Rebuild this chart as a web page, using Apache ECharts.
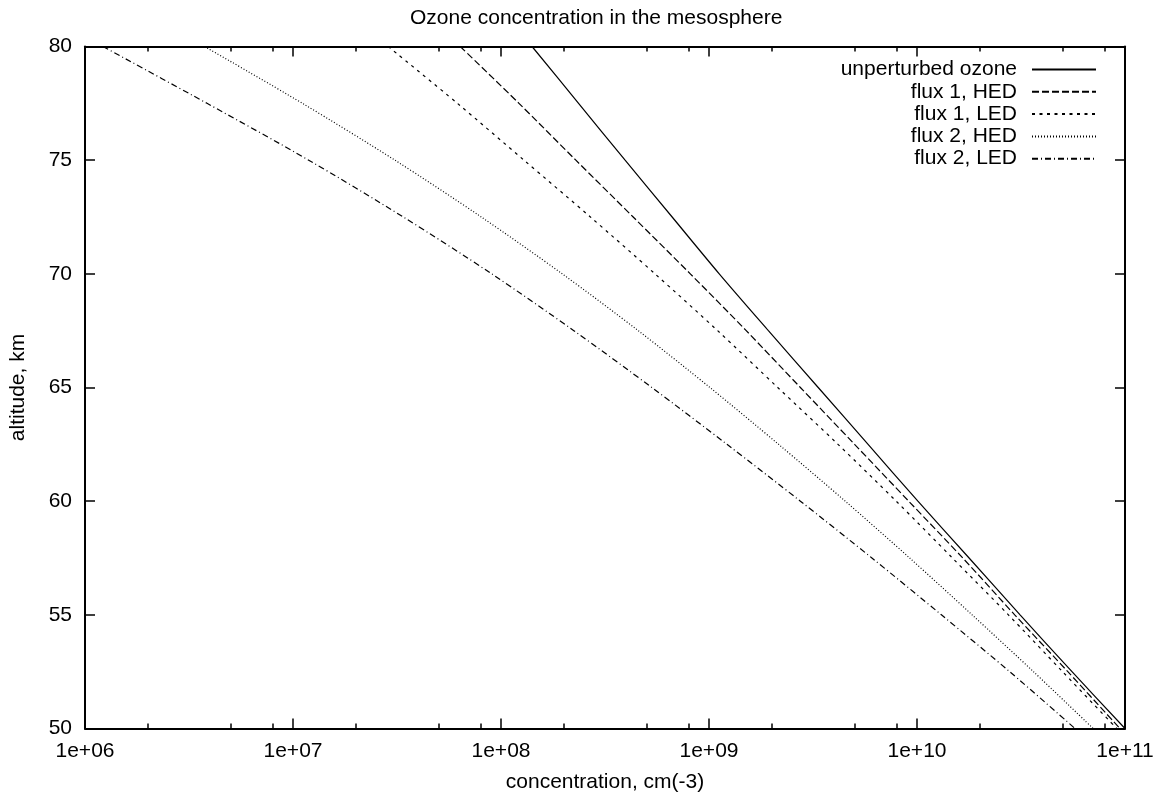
<!DOCTYPE html>
<html>
<head>
<meta charset="utf-8">
<title>Ozone concentration in the mesosphere</title>
<script src="https://cdn.jsdelivr.net/npm/echarts@6/dist/echarts.min.js"></script>
<style>
html, body { margin: 0; padding: 0; background: #fff; }
#main { width: 1160px; height: 802px; }
</style>
</head>
<body>
<div id="main"></div>
<script>
// altitude, km (y values shared by all curves)
var altitude = [80, 77.5, 75, 72.5, 70, 67.5, 65, 62.5, 60, 57.5, 55, 52.5, 50];

// concentration, cm(-3)
var unperturbed = [1.41e8, 2.36e8, 3.95e8, 6.65e8, 1.12e9, 1.93e9, 3.35e9, 5.82e9, 1.01e10, 1.78e10, 3.13e10, 5.56e10, 1.0e11];
var flux1HED = [6.37e7, 1.22e8, 2.29e8, 4.32e8, 8.13e8, 1.51e9, 2.75e9, 5.01e9, 9.12e9, 1.66e10, 2.95e10, 5.31e10, 9.46e10];
var flux1LED = [2.87e7, 6.17e7, 1.29e8, 2.69e8, 5.50e8, 1.10e9, 2.14e9, 4.17e9, 7.94e9, 1.48e10, 2.75e10, 5.01e10, 9.12e10];
var flux2HED = [3.76e6, 1.11e7, 3.09e7, 8.04e7, 1.97e8, 4.57e8, 1.01e9, 2.16e9, 4.52e9, 9.22e9, 1.84e10, 3.63e10, 7.03e10];
var flux2LED = [1.22e6, 3.86e6, 1.19e7, 3.39e7, 9.02e7, 2.24e8, 5.31e8, 1.22e9, 2.75e9, 6.07e9, 1.31e10, 2.79e10, 5.75e10];

// tick values
var xMajorTicks = [1e6, 1e7, 1e8, 1e9, 1e10, 1e11];
var xMinorTicks = [];
for (var e = 6; e < 11; e++) {
    xMinorTicks.push(2 * Math.pow(10, e), 5 * Math.pow(10, e), 8 * Math.pow(10, e));
}

var font = "'Liberation Sans', Arial, Helvetica, sans-serif";

function pairs(xs) {
    var out = [];
    for (var i = 0; i < xs.length; i++) out.push([xs[i], altitude[i]]);
    return out;
}

function expLabel(v) {
    var p = Math.round(Math.log10(v));
    return '1e+' + (p < 10 ? '0' + p : p);
}

// one x axis: major ticks or minor ticks, bottom or top
function xAxisDef(pos, minor, labels) {
    return {
        type: 'log',
        logBase: 10,
        position: pos,
        min: 1e6,
        max: 1e11,
        name: labels ? 'concentration, cm(-3)' : '',
        nameLocation: 'middle',
        nameGap: 43,
        nameTextStyle: { fontFamily: font, fontSize: 21, color: '#000' },
        axisLine: { show: !minor, onZero: false, lineStyle: { color: '#000', width: 2 } },
        axisTick: {
            show: true,
            inside: true,
            length: minor ? 5 : 10,
            customValues: minor ? xMinorTicks : xMajorTicks,
            lineStyle: { color: '#000', width: 1.5 }
        },
        axisLabel: {
            show: labels,
            customValues: xMajorTicks,
            margin: 12,
            fontFamily: font,
            fontSize: 21,
            color: '#000',
            formatter: expLabel
        },
        splitLine: { show: false }
    };
}

function yAxisDef(pos, labels) {
    return {
        type: 'value',
        position: pos,
        min: 50,
        max: 80,
        interval: 5,
        name: labels ? 'altitude, km' : '',
        nameLocation: 'middle',
        nameRotate: 90,
        nameGap: 56,
        nameTextStyle: { fontFamily: font, fontSize: 21, color: '#000' },
        axisLine: { show: true, onZero: false, lineStyle: { color: '#000', width: 2 } },
        axisTick: { show: true, inside: true, length: 10, lineStyle: { color: '#000', width: 1.5 } },
        axisLabel: { show: labels, margin: 13, fontFamily: font, fontSize: 21, color: '#000' },
        splitLine: { show: false }
    };
}

function line(name, xs, dash) {
    return {
        name: name,
        type: 'line',
        xAxisIndex: 0,
        yAxisIndex: 0,
        data: pairs(xs),
        smooth: 0.3,
        symbol: 'none',
        silent: true,
        animation: false,
        itemStyle: { color: '#000' },
        lineStyle: { color: '#000', width: 1.2, type: dash }
    };
}

var myChart = echarts.init(document.getElementById('main'), null, { renderer: 'canvas' });

var option = {
    backgroundColor: '#fff',
    animation: false,
    title: {
        text: 'Ozone concentration in the mesosphere',
        left: 405,
        top: 3,
        textStyle: { fontFamily: font, fontSize: 21, fontWeight: 'normal', color: '#000' }
    },
    legend: {
        orient: 'vertical',
        right: 63,
        top: 59,
        padding: 0,
        align: 'right',
        itemWidth: 64,
        itemHeight: 12,
        itemGap: 1.3,
        selectedMode: false,
        itemStyle: { opacity: 0, borderWidth: 0 },
        textStyle: { fontFamily: font, fontSize: 21, color: '#000', padding: [0, 10, 0, 0] },
        data: ['unperturbed ozone', 'flux 1, HED', 'flux 1, LED', 'flux 2, HED', 'flux 2, LED']
    },
    grid: { left: 83.5, right: 35, top: 46.5, bottom: 73.5, containLabel: false },
    xAxis: [
        xAxisDef('bottom', false, true),
        xAxisDef('bottom', true, false),
        xAxisDef('top', false, false),
        xAxisDef('top', true, false)
    ],
    yAxis: [
        yAxisDef('left', true),
        yAxisDef('right', false)
    ],
    series: [
        line('unperturbed ozone', unperturbed, 'solid'),
        line('flux 1, HED', flux1HED, [7, 3]),
        line('flux 1, LED', flux1LED, [3, 4.5]),
        line('flux 2, HED', flux2HED, [1, 2]),
        line('flux 2, LED', flux2LED, [6, 3, 1, 3])
    ]
};

myChart.setOption(option);
</script>
</body>
</html>
